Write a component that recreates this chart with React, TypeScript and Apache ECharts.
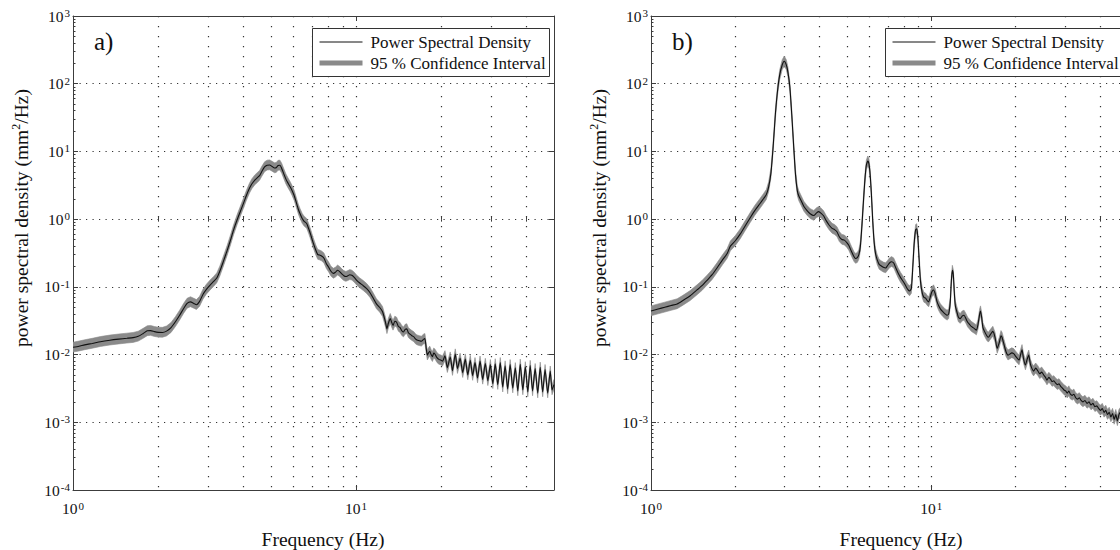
import React, { useEffect, useRef } from "react";
import * as echarts from "echarts";

// ---------- data ----------
const freqA = [
  1.0, 1.05, 1.1, 1.17, 1.25, 1.35, 1.45, 1.55, 1.63, 1.7, 1.77, 1.83, 1.88, 1.94, 2.0, 2.07, 2.14, 2.22, 2.3, 2.38,
  2.46, 2.53, 2.6, 2.67, 2.73, 2.8, 2.88, 2.96, 3.05, 3.14, 3.22, 3.3, 3.4, 3.5, 3.6, 3.69, 3.8, 3.9, 4.0, 4.1,
  4.2, 4.28, 4.38, 4.48, 4.56, 4.65, 4.75, 4.85, 4.95, 5.05, 5.15, 5.22, 5.3, 5.38, 5.46, 5.55, 5.65, 5.75, 5.85, 5.95,
  6.05, 6.15, 6.25, 6.34, 6.45, 6.55, 6.69, 6.8, 6.92, 7.05, 7.2, 7.32, 7.42, 7.55, 7.7, 7.85, 8.0, 8.15, 8.31, 8.45,
  8.6, 8.75, 8.9, 9.05, 9.2, 9.35, 9.5, 9.66, 9.85, 10.05, 10.3, 10.6, 10.9, 11.2, 11.5, 11.8, 12.1, 12.4, 12.7, 12.85,
  13.0, 13.2, 13.35, 13.5, 13.7, 13.9, 14.1, 14.3, 14.5, 14.7, 14.9, 15.1, 15.3, 15.5, 15.75, 16.0, 16.2, 16.4, 16.7, 17.0,
  17.3, 17.5, 17.7, 17.85, 18.0, 18.2, 18.4, 18.6, 18.8, 19.0, 19.3, 19.6, 19.9, 20.2, 20.6, 21.0, 21.5, 21.9, 22.4, 22.8,
  23.3, 23.8, 24.3, 24.8, 25.3, 25.8, 26.3, 26.85, 27.4, 28.0, 28.6, 29.2, 29.8, 30.4, 31.0, 31.65, 32.3, 32.95, 33.6, 34.3,
  35.0, 35.75, 36.5, 37.25, 38.0, 38.8, 39.6, 40.4, 41.2, 42.0, 42.9, 43.8, 44.7, 45.6, 46.5, 47.5, 48.5, 49.2, 50.0,
];
const psdA = [
  0.0128, 0.0133, 0.0139, 0.0146, 0.0155, 0.0163, 0.0169, 0.0174, 0.0178, 0.0186, 0.0205, 0.0224, 0.0226, 0.0218, 0.0213, 0.0212, 0.0222, 0.025, 0.0305, 0.038,
  0.048, 0.057, 0.06, 0.057, 0.0545, 0.061, 0.078, 0.092, 0.106, 0.12, 0.135, 0.17, 0.24, 0.34, 0.49, 0.69, 0.98, 1.3, 1.71, 2.25,
  2.85, 3.3, 3.75, 4.1, 4.4, 5.1, 5.9, 6.25, 6.3, 6.0, 5.7, 5.75, 6.2, 6.25, 5.6, 4.7, 3.9, 3.4, 3.0, 2.6,
  2.2, 1.75, 1.4, 1.2, 1.02, 0.93, 0.86, 0.72, 0.58, 0.45, 0.35, 0.3, 0.295, 0.285, 0.265, 0.22, 0.195, 0.17, 0.158, 0.164,
  0.176, 0.168, 0.155, 0.146, 0.142, 0.146, 0.151, 0.148, 0.138, 0.125, 0.114, 0.104, 0.094, 0.082, 0.068, 0.056, 0.05, 0.043, 0.03, 0.024,
  0.029, 0.034, 0.03, 0.027, 0.031, 0.03, 0.026, 0.025, 0.0225, 0.0215, 0.0235, 0.024, 0.021, 0.02, 0.019, 0.0182, 0.017, 0.0164, 0.016, 0.0157,
  0.0168, 0.0172, 0.012, 0.0098, 0.0105, 0.0112, 0.01, 0.0093, 0.0105, 0.0101, 0.009, 0.0085, 0.0083, 0.008, 0.0096, 0.0064, 0.0092, 0.0058, 0.0102, 0.0062,
  0.0088, 0.0054, 0.0086, 0.005, 0.0082, 0.0049, 0.0076, 0.0045, 0.008, 0.0043, 0.0074, 0.0041, 0.0071, 0.0037, 0.0073, 0.0036, 0.0076, 0.0033, 0.0068, 0.0031,
  0.0071, 0.0032, 0.0064, 0.0029, 0.0072, 0.003, 0.0066, 0.0028, 0.0069, 0.0029, 0.0062, 0.0027, 0.0065, 0.0028, 0.006, 0.0027, 0.0057, 0.003, 0.0036,
];
const freqB = [
  1.0, 1.06, 1.12, 1.18, 1.24, 1.3, 1.38, 1.46, 1.52, 1.585, 1.65, 1.72, 1.8, 1.87, 1.92, 2.0, 2.08, 2.17, 2.26, 2.35,
  2.45, 2.52, 2.58, 2.63, 2.68, 2.73, 2.78, 2.83, 2.88, 2.94, 2.99, 3.04, 3.08, 3.13, 3.18, 3.23, 3.28, 3.33, 3.37, 3.44,
  3.51, 3.6, 3.7, 3.81, 3.9, 3.97, 4.05, 4.13, 4.22, 4.32, 4.43, 4.52, 4.61, 4.7, 4.8, 4.9, 5.0, 5.08, 5.2, 5.3,
  5.37, 5.45, 5.52, 5.59, 5.66, 5.73, 5.8, 5.87, 5.94, 6.0, 6.06, 6.12, 6.19, 6.26, 6.33, 6.42, 6.52, 6.62, 6.75, 6.88,
  6.98, 7.1, 7.22, 7.35, 7.48, 7.62, 7.78, 7.95, 8.1, 8.25, 8.38, 8.5, 8.6, 8.7, 8.8, 8.88, 8.96, 9.06, 9.16, 9.3,
  9.42, 9.55, 9.7, 9.8, 9.92, 10.05, 10.2, 10.35, 10.5, 10.65, 10.8, 11.0, 11.2, 11.4, 11.55, 11.7, 11.8, 11.9, 12.0, 12.1,
  12.2, 12.35, 12.5, 12.7, 12.9, 13.1, 13.3, 13.5, 13.7, 13.9, 14.1, 14.3, 14.5, 14.7, 14.9, 15.0, 15.15, 15.3, 15.5, 15.8,
  16.0, 16.3, 16.6, 16.9, 17.2, 17.5, 17.75, 17.9, 18.2, 18.5, 18.8, 19.1, 19.4, 19.7, 20.0, 20.3, 20.6, 20.85, 21.1, 21.35,
  21.7, 22.0, 22.3, 22.6, 22.9, 23.2, 23.6, 24.0, 24.4, 24.8, 25.2, 25.6, 25.9, 26.3, 26.7, 27.0, 27.4, 27.8, 28.2, 28.6,
  29.0, 29.4, 29.8, 30.2, 30.6, 31.0, 31.4, 31.9, 32.3, 32.8, 33.3, 33.8, 34.3, 34.8, 35.4, 36.0, 36.6, 37.2, 37.8, 38.4,
  39.0, 39.6, 40.2, 40.8, 41.4, 42.0, 42.6, 43.2, 43.8, 44.4, 45.0, 45.6, 46.2, 46.8, 47.4, 48.0, 48.6, 49.2, 50.0,
];
const psdB = [
  0.044, 0.047, 0.05, 0.053, 0.056, 0.063, 0.074, 0.09, 0.104, 0.125, 0.15, 0.19, 0.25, 0.31, 0.4, 0.48, 0.6, 0.8, 1.05, 1.35,
  1.7, 2.0, 2.3, 3.0, 4.8, 12.0, 36.0, 80.0, 135, 190, 215, 190, 150, 90, 35, 12.0, 4.5, 2.6, 2.2, 1.85,
  1.55, 1.35, 1.2, 1.13, 1.24, 1.29, 1.22, 1.12, 0.95, 0.82, 0.73, 0.7, 0.65, 0.55, 0.5, 0.49, 0.45, 0.41, 0.33, 0.28,
  0.262, 0.27, 0.3, 0.4, 0.8, 1.8, 3.8, 6.3, 7.2, 6.5, 4.4, 2.3, 0.9, 0.45, 0.31, 0.25, 0.215, 0.205, 0.195, 0.19,
  0.205, 0.225, 0.235, 0.225, 0.19, 0.16, 0.137, 0.12, 0.105, 0.092, 0.087, 0.095, 0.2, 0.45, 0.7, 0.72, 0.55, 0.25, 0.12, 0.08,
  0.07, 0.068, 0.062, 0.06, 0.07, 0.084, 0.09, 0.078, 0.06, 0.052, 0.047, 0.043, 0.04, 0.038, 0.04, 0.06, 0.12, 0.175, 0.15, 0.08,
  0.052, 0.043, 0.036, 0.034, 0.037, 0.038, 0.034, 0.03, 0.028, 0.026, 0.025, 0.024, 0.023, 0.028, 0.04, 0.044, 0.035, 0.025, 0.022, 0.019,
  0.018, 0.02, 0.022, 0.018, 0.0123, 0.015, 0.019, 0.018, 0.014, 0.011, 0.0098, 0.0102, 0.0106, 0.0103, 0.0095, 0.0088, 0.0083, 0.01, 0.0118, 0.0088,
  0.007, 0.0085, 0.0098, 0.0072, 0.0062, 0.0057, 0.0063, 0.0058, 0.0052, 0.0055, 0.005, 0.0046, 0.0042, 0.0046, 0.0043, 0.004, 0.0041, 0.0038, 0.0036, 0.0037,
  0.0034, 0.0032, 0.003, 0.0029, 0.0027, 0.0029, 0.0026, 0.0025, 0.0026, 0.0023, 0.0022, 0.0023, 0.0021, 0.002, 0.0021, 0.0019, 0.002, 0.0018, 0.0019, 0.0017,
  0.00175, 0.0016, 0.0015, 0.0016, 0.0014, 0.0015, 0.0013, 0.0014, 0.0012, 0.00135, 0.0011, 0.0013, 0.00105, 0.0013, 0.0014, 0.0011, 0.0013, 0.0011, 0.0012,
];
// 95 % confidence interval as ratio to the PSD estimate
const CI_LOW = 0.85;
const CI_HIGH = 1.19;

const X_MIN = 1;
const X_MAX = 50;
const Y_MIN_EXP = -4;
const Y_MAX_EXP = 3;
const xLabelExps = [0, 1];
const xGridFreqs = [2, 3, 4, 5, 6, 7, 8, 9, 10, 20, 30, 40];
const yMinorMantissas = [2, 3, 4, 5, 6, 7, 8, 9];
const legendLabels = ["Power Spectral Density", "95 % Confidence Interval"];
const panelLabels = ["a)", "b)"];
const xTitle = "Frequency (Hz)";

// ---------- styles ----------
const FONT = "Liberation Serif";
const AX = "#3c3c3c";
const DOT = "#333";
const BAND = "#8a8a8a";
const INK = "#111";

const lg = Math.log10;

const tickRich = {
  b: { fontFamily: FONT, fontSize: 15.5, color: INK, lineHeight: 17 },
  s: { fontFamily: FONT, fontSize: 11, color: INK, lineHeight: 11, verticalAlign: "top", padding: [0, 0, 0, 1] },
};
const tickFmt = (v: number) => `{b|10}{s|${Math.round(v)}}`;

type Panel = { left: number; width: number; freq: number[]; psd: number[] };
const panels: Panel[] = [
  { left: 73, width: 481, freq: freqA, psd: psdA },
  { left: 651, width: 476, freq: freqB, psd: psdB },
];
const TOP = 16;
const HEIGHT = 474;

function bandRenderItem(params: any, api: any) {
  if (params.dataIndexInside !== 0) return null;
  const n = params.dataInsideLength;
  const upper: number[][] = [];
  const lower: number[][] = [];
  for (let k = 0; k < n; k++) {
    const x = api.value(0, k);
    upper.push(api.coord([x, api.value(2, k)]));
    lower.push(api.coord([x, api.value(1, k)]));
  }
  return {
    type: "polygon",
    shape: { points: upper.concat(lower.reverse()) },
    style: { fill: BAND, stroke: BAND, lineWidth: 0.6 },
    silent: true,
  };
}

function buildOption() {
  const grid: any[] = [];
  const xAxis: any[] = [];
  const yAxis: any[] = [];
  const series: any[] = [];
  const graphic: any[] = [];

  const xMin = lg(X_MIN);
  const xMax = lg(X_MAX);
  const xMinor = xGridFreqs.map((f) => lg(f));
  const yMinor: number[] = [];
  for (let e = Y_MIN_EXP; e < Y_MAX_EXP; e++) yMinorMantissas.forEach((m) => yMinor.push(e + lg(m)));

  panels.forEach((p, i) => {
    grid.push({ left: p.left, top: TOP, width: p.width, height: HEIGHT, outerBoundsMode: "none", containLabel: false });
    const baseX = { type: "value", gridIndex: i, min: xMin, max: xMax, axisLabel: { show: false }, splitLine: { show: false }, axisLine: { show: false } };
    xAxis.push({
      ...baseX,
      position: "bottom",
      axisLine: { show: true, onZero: false, lineStyle: { color: AX, width: 1 } },
      axisTick: { show: true, inside: true, length: 5, customValues: xLabelExps, lineStyle: { color: AX } },
      axisLabel: { show: true, customValues: xLabelExps, formatter: tickFmt, rich: tickRich, margin: 10 },
    });
    xAxis.push({
      ...baseX,
      position: "bottom",
      axisTick: { show: true, inside: true, length: 2.5, customValues: xMinor, lineStyle: { color: AX } },
      splitLine: { show: true, lineStyle: { color: DOT, width: 1.2, type: [1.2, 8.8] } },
    });
    xAxis.push({
      ...baseX,
      position: "top",
      axisLine: { show: true, onZero: false, lineStyle: { color: AX, width: 1 } },
      axisTick: { show: true, inside: true, length: 5, customValues: xLabelExps, lineStyle: { color: AX } },
    });
    xAxis.push({
      ...baseX,
      position: "top",
      axisTick: { show: true, inside: true, length: 2.5, customValues: xMinor, lineStyle: { color: AX } },
    });

    const baseY = { type: "value", gridIndex: i, min: Y_MIN_EXP, max: Y_MAX_EXP, interval: 1, axisLabel: { show: false }, splitLine: { show: false }, axisLine: { show: false } };
    yAxis.push({
      ...baseY,
      position: "left",
      axisLine: { show: true, onZero: false, lineStyle: { color: AX, width: 1 } },
      axisTick: { show: true, inside: true, length: 5, lineStyle: { color: AX } },
      axisLabel: { show: true, formatter: tickFmt, rich: tickRich, margin: 3 },
      splitLine: { show: true, lineStyle: { color: DOT, width: 1.2, type: [1.2, 5.3] } },
    });
    yAxis.push({
      ...baseY,
      position: "left",
      axisTick: { show: true, inside: true, length: 2.5, customValues: yMinor, lineStyle: { color: AX } },
    });
    yAxis.push({
      ...baseY,
      position: "right",
      axisLine: { show: true, onZero: false, lineStyle: { color: AX, width: 1 } },
      axisTick: { show: true, inside: true, length: 5, lineStyle: { color: AX } },
    });

    const xi = i * 4;
    const yi = i * 3;
    series.push({
      type: "custom",
      name: legendLabels[1],
      xAxisIndex: xi,
      yAxisIndex: yi,
      data: p.freq.map((f, k) => [lg(f), lg(p.psd[k] * CI_LOW), lg(p.psd[k] * CI_HIGH)]),
      encode: { x: 0, y: [1, 2] },
      renderItem: bandRenderItem,
      silent: true,
      clip: true,
      z: 2,
    });
    series.push({
      type: "line",
      name: legendLabels[0],
      xAxisIndex: xi,
      yAxisIndex: yi,
      data: p.freq.map((f, k) => [lg(f), lg(p.psd[k])]),
      symbol: "none",
      smooth: 0.2,
      lineStyle: { color: INK, width: 1.1 },
      silent: true,
      z: 3,
    });

    graphic.push({
      type: "text",
      x: p.left - 52,
      y: 218,
      rotation: Math.PI / 2,
      style: {
        text: "{n|power spectral density (mm}{s|2}{n|/Hz)}",
        rich: {
          n: { fontFamily: FONT, fontSize: 19.5, fill: INK, lineHeight: 22 },
          s: { fontFamily: FONT, fontSize: 12, fill: INK, lineHeight: 12, verticalAlign: "top" },
        },
        align: "center",
        verticalAlign: "middle",
        textAlign: "center",
        textVerticalAlign: "middle",
      },
      z: 50,
    });
    graphic.push({
      type: "text",
      x: p.left + 250,
      y: 539,
      style: {
        text: xTitle,
        fontFamily: FONT,
        fontSize: 19.5,
        fill: INK,
        align: "center",
        verticalAlign: "middle",
        textAlign: "center",
        textVerticalAlign: "middle",
      },
      z: 50,
    });
    graphic.push({
      type: "text",
      x: p.left + 21,
      y: 41,
      style: {
        text: panelLabels[i],
        fontFamily: FONT,
        fontSize: 25,
        fill: INK,
        align: "left",
        verticalAlign: "middle",
        textAlign: "left",
        textVerticalAlign: "middle",
      },
      z: 50,
    });

    const bx = p.left + p.width - 241.5;
    const by = 28.5;
    graphic.push({
      type: "rect",
      shape: { x: bx, y: by, width: 237, height: 48 },
      style: { fill: "#fff", stroke: "#333", lineWidth: 1 },
      z: 60,
    });
    graphic.push({
      type: "line",
      shape: { x1: bx + 7, y1: by + 13.5, x2: bx + 50, y2: by + 13.5 },
      style: { stroke: INK, lineWidth: 1 },
      z: 61,
    });
    graphic.push({
      type: "line",
      shape: { x1: bx + 7, y1: by + 34.5, x2: bx + 50, y2: by + 34.5 },
      style: { stroke: BAND, lineWidth: 5 },
      z: 61,
    });
    legendLabels.forEach((t, k) => {
      graphic.push({
        type: "text",
        x: bx + 58,
        y: by + 13.5 + k * 21,
        style: {
          text: t,
          fontFamily: FONT,
          fontSize: 17,
          fill: INK,
          align: "left",
          verticalAlign: "middle",
          textAlign: "left",
          textVerticalAlign: "middle",
        },
        z: 61,
      });
    });
  });

  return {
    animation: false,
    backgroundColor: "#fff",
    textStyle: { fontFamily: FONT },
    grid,
    xAxis,
    yAxis,
    series,
    graphic,
  };
}

export default function App() {
  const ref = useRef<HTMLDivElement>(null);
  useEffect(() => {
    if (!ref.current) return;
    const chart = echarts.init(ref.current, null, { renderer: "svg" });
    chart.setOption(buildOption() as any);
    return () => chart.dispose();
  }, []);
  return (
    <div
      ref={ref}
      style={{ position: "absolute", left: 0, top: 0, width: 1120, height: 550, background: "#fff" }}
    />
  );
}
